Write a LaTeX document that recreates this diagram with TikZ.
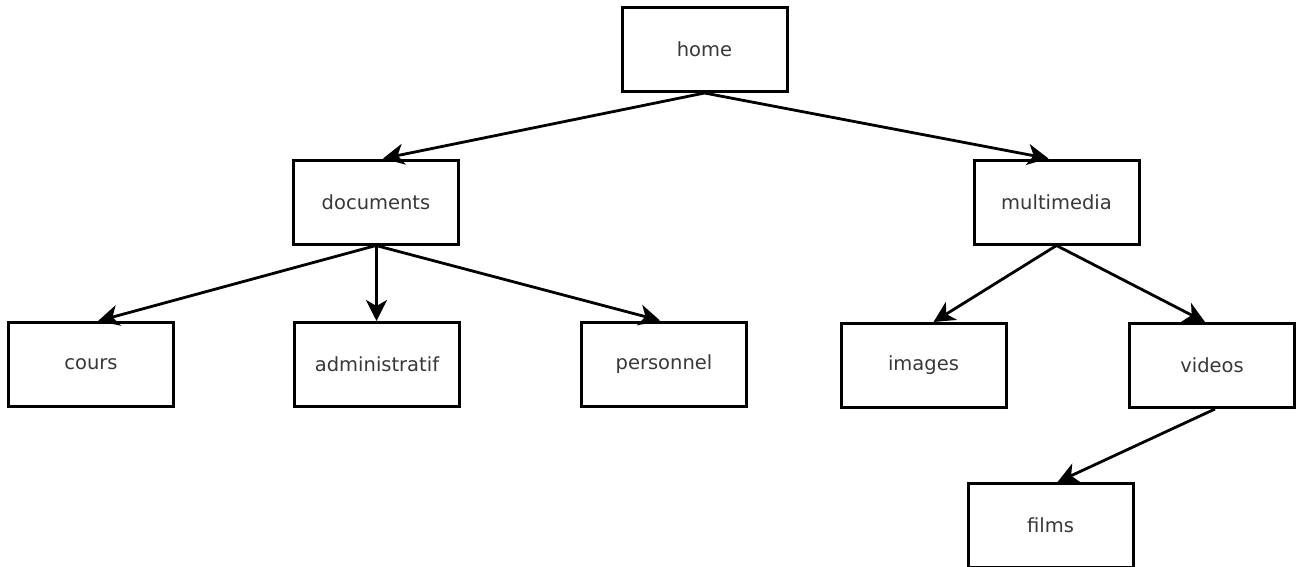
\documentclass[tikz,border=0pt]{standalone}
\usepackage{fontspec}
\setmainfont{DejaVu Sans}
\usetikzlibrary{arrows.meta}
\begin{document}
\begin{tikzpicture}[x=1pt,y=-1pt,
  box/.style={draw=black,line width=3pt,minimum width=165pt,minimum height=84pt,inner sep=0pt,text=black!78,font=\fontsize{19.5}{23}\selectfont},
  link/.style={line width=2.8pt,-{Stealth[length=21pt,width=21pt,inset=6pt]}}]
\useasboundingbox[fill=white] (0,0) rectangle (1298,566);
\node[box] (home) at (704.5,49.5) {home};
\node[box] (documents) at (376,202) {documents};
\node[box] (multimedia) at (1056.5,202) {multimedia};
\node[box] (cours) at (91,364.5) {cours};
\node[box] (administratif) at (377,364.5) {administratif};
\node[box] (personnel) at (664,364) {personnel};
\node[box] (images) at (923.5,365.5) {images};
\node[box] (videos) at (1212,365.5) {videos};
\node[box] (films) at (1050.5,525.5) {films};
\draw[link] (home.south) -- ([xshift=7pt]documents.north);
\draw[link] (home.south) -- ([xshift=-8pt]multimedia.north);
\draw[link] (documents.south) -- ([xshift=7pt]cours.north);
\draw[link] ([xshift=0.5pt]documents.south) -- ([xshift=-0.5pt]administratif.north);
\draw[link] (documents.south) -- ([xshift=-4pt]personnel.north);
\draw[link] (multimedia.south) -- ([xshift=10pt]images.north);
\draw[link] (multimedia.south) -- ([xshift=-7pt]videos.north);
\draw[link] ([xshift=3pt]videos.south) -- ([xshift=7pt]films.north);
\end{tikzpicture}
\end{document}
